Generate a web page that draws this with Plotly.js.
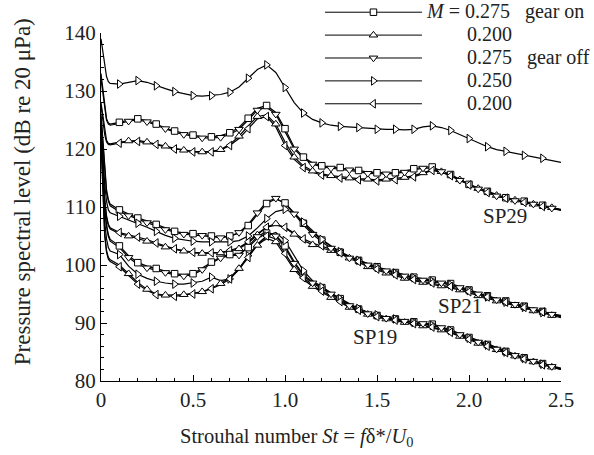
<!DOCTYPE html>
<html>
<head>
<meta charset="utf-8">
<script src="https://cdn.plot.ly/plotly-3.0.1.min.js"></script>
<style>html,body{margin:0;padding:0;background:#fff;}#chart{width:594px;height:455px;}</style>
</head>
<body>
<div id="chart"></div>
<script>
// Strouhal number grid
const St = [0,0.01,0.02,0.03,0.04,
  0.05,0.1,0.15,0.2,0.25,0.3,0.35,0.4,0.45,0.5,
  0.55,0.6,0.65,0.7,0.75,0.8,0.85,0.9,0.95,1.0,
  1.05,1.1,1.15,1.2,1.25,1.3,1.35,1.4,1.45,1.5,
  1.55,1.6,1.65,1.7,1.75,1.8,1.85,1.9,1.95,2.0,
  2.05,2.1,2.15,2.2,2.25,2.3,2.35,2.4,2.45,2.5];

// SP29
const sp29_sq = [133,130,127,125.2,124.5,
  124.3,124.6,125.0,125.2,124.9,124.3,123.6,123.1,122.7,122.4,
  122.1,122.1,122.3,122.8,123.7,125.3,127.0,127.5,126.3,123.5,
  120.3,118.6,117.6,117.1,116.9,116.8,116.6,116.3,116.0,115.9,
  115.9,115.9,116.2,116.6,116.9,116.9,116.3,115.6,114.8,113.9,
  113.3,112.7,112.1,111.6,111.3,111.0,110.6,110.3,109.9,109.6];
const sp29_up = [128,125.5,123,121.5,121.0,
  120.9,121.2,121.4,121.5,121.2,120.9,120.5,120.1,119.8,119.6,
  119.5,119.6,119.9,120.8,122.2,124.0,125.6,125.9,124.3,121.2,
  118.6,117.1,116.2,115.7,115.4,115.2,115.0,114.9,114.8,114.7,
  114.8,114.9,115.1,115.4,115.9,116.4,116.1,115.5,114.7,113.9,
  113.2,112.6,112.0,111.6,111.2,110.9,110.5,110.2,109.9,109.5];
const sp29_dn = [132,129.5,126.5,125,124.3,
  124.1,124.4,124.8,125.0,124.7,124.1,123.5,122.9,122.5,122.2,
  121.9,121.9,122.0,122.5,123.4,125.0,126.7,127.2,126.0,123.0,
  120.0,118.4,117.4,116.9,116.7,116.6,116.4,116.1,115.8,115.7,
  115.7,115.8,116.0,116.4,116.7,116.7,116.1,115.4,114.6,113.8,
  113.1,112.5,111.9,111.5,111.1,110.8,110.5,110.1,109.8,109.5];
const sp29_rt = [139,137,134.5,132.5,131.6,
  131.3,131.2,131.5,131.8,131.5,130.9,130.4,129.9,129.5,129.2,
  129.1,129.2,129.4,129.8,130.7,132.2,133.7,134.5,133.2,130.6,
  128.0,126.2,125.1,124.5,124.1,123.9,123.8,123.7,123.5,123.4,
  123.4,123.4,123.3,123.4,123.8,124.0,123.7,123.2,122.5,121.8,
  121.0,120.4,119.9,119.6,119.2,118.9,118.6,118.4,118.1,117.7];
const sp29_lt = [127.5,125,122.5,121.2,120.8,
  120.7,121.0,121.3,121.3,121.1,120.8,120.3,120.0,119.7,119.5,
  119.4,119.5,119.8,120.6,121.8,123.5,125.2,125.6,123.8,120.6,
  118.2,116.8,116.0,115.5,115.2,115.0,114.8,114.7,114.6,114.5,
  114.6,114.7,114.9,115.2,115.8,116.3,116.0,115.4,114.6,113.8,
  113.1,112.5,111.9,111.5,111.1,110.8,110.4,110.1,109.8,109.4];

// SP21
const sp21_sq = [126,121,116,113,111.3,
  110.5,109.5,108.8,108.1,107.6,107.0,106.3,105.8,105.5,105.4,
  105.3,105.0,104.8,105.0,105.5,106.8,108.7,110.6,111.4,110.7,
  109.0,107.2,105.6,104.3,103.2,102.2,101.4,100.8,100.2,99.7,
  99.2,98.7,98.3,97.9,97.6,97.4,97.1,96.8,96.3,95.7,
  95.2,94.7,94.2,93.8,93.4,92.9,92.5,92.0,91.6,91.3];
const sp21_up = [123.5,116.5,111,108.2,106.8,
  106.2,105.4,105.0,104.6,104.1,103.6,103.1,102.7,102.4,102.1,
  102.0,102.0,102.1,102.4,102.8,103.8,105.2,106.6,107.1,106.4,
  105.3,104.2,103.5,103.0,102.5,101.9,101.2,100.4,99.7,99.1,
  98.6,98.1,97.7,97.3,97.0,96.7,96.4,96.1,95.7,95.2,
  94.7,94.3,93.8,93.4,93.0,92.5,92.1,91.7,91.3,90.9];
const sp21_dn = [125.5,120.5,115.5,112.5,111.0,
  110.2,109.2,108.5,107.9,107.3,106.7,106.1,105.6,105.3,105.2,
  105.1,104.9,104.7,104.9,105.6,107.0,109.0,110.9,111.5,110.6,
  108.8,106.9,105.3,104.0,102.9,102.0,101.2,100.6,100.0,99.5,
  99.0,98.5,98.1,97.7,97.4,97.2,96.9,96.6,96.1,95.5,
  95.0,94.5,94.0,93.6,93.2,92.7,92.3,91.8,91.5,91.2];
const sp21_rt = [125,119,114,111,109.5,
  109.0,108.4,107.7,107.2,106.5,105.8,105.1,104.6,104.3,104.1,
  104.0,104.0,104.0,104.0,104.2,105.0,106.4,108.0,109.2,109.6,
  108.9,107.4,105.8,104.4,103.3,102.3,101.5,100.8,100.2,99.6,
  99.1,98.6,98.2,97.8,97.5,97.2,96.9,96.6,96.1,95.6,
  95.0,94.5,94.0,93.6,93.1,92.7,92.3,91.8,91.4,91.1];
const sp21_lt = [124,117,111.5,108.5,107.0,
  106.4,105.6,105.2,104.8,104.4,103.8,103.3,102.8,102.5,102.2,
  102.1,102.1,102.2,102.5,103.0,104.0,105.4,106.5,106.9,106.5,
  105.5,104.5,103.8,103.3,102.7,102.1,101.4,100.6,99.9,99.3,
  98.8,98.3,97.9,97.5,97.2,96.9,96.6,96.3,95.9,95.4,
  94.9,94.5,94.0,93.6,93.2,92.7,92.3,91.9,91.5,91.1];

// SP19
const sp19_sq = [124,116,110,107,105.2,
  104.4,103.3,101.6,100.4,99.8,99.4,98.9,98.5,98.3,98.5,
  99.5,100.5,101.4,101.8,101.8,103.0,104.6,105.5,105.2,103.3,
  100.6,98.3,97.1,96.1,95.2,94.2,93.2,92.4,91.8,91.3,
  91.0,90.7,90.4,90.2,90.0,89.8,89.4,88.8,88.2,87.5,
  86.9,86.3,85.7,85.1,84.5,84.0,83.5,83.0,82.6,82.2];
const sp19_up = [122,112,105.5,102.5,101.3,
  100.9,100.0,98.5,97.0,95.8,95.0,94.8,94.8,94.9,95.1,
  95.4,96.0,96.8,97.8,99.4,101.5,103.4,104.6,104.0,101.6,
  99.2,97.5,96.3,95.3,94.4,93.5,92.7,92.0,91.5,91.0,
  90.7,90.4,90.1,89.8,89.5,89.2,88.8,88.3,87.7,87.1,
  86.5,86.0,85.4,84.8,84.3,83.8,83.3,82.8,82.4,82.0];
const sp19_dn = [123.5,115.5,109.5,106.6,104.9,
  104.1,103.0,101.3,100.1,99.5,99.1,98.7,98.3,98.1,98.3,
  99.2,100.3,101.2,101.6,101.7,103.2,104.9,105.8,105.0,103.0,
  100.3,98.1,96.9,95.9,95.0,94.0,93.0,92.2,91.6,91.1,
  90.8,90.5,90.3,90.1,89.9,89.6,89.2,88.6,88.0,87.3,
  86.7,86.1,85.5,84.9,84.4,83.9,83.4,82.9,82.5,82.1];
const sp19_rt = [123,114,107.5,104.5,103.0,
  102.4,101.8,99.8,98.4,97.7,97.2,96.9,96.7,96.7,96.9,
  97.2,97.9,97.3,97.6,99.3,101.6,103.6,105.0,105.6,104.2,
  101.6,99.0,97.3,96.2,95.2,94.2,93.3,92.5,91.9,91.4,
  91.0,90.7,90.4,90.1,89.9,89.6,89.2,88.7,88.1,87.4,
  86.8,86.2,85.6,85.0,84.4,83.9,83.4,82.9,82.5,82.1];
const sp19_lt = [121.5,111.5,105,102.2,101.0,
  100.6,99.7,98.2,96.7,95.6,94.9,94.7,94.6,94.8,95.0,
  95.3,95.9,96.6,97.6,99.2,101.3,103.5,105.0,104.5,102.0,
  99.6,97.8,96.5,95.5,94.6,93.7,92.9,92.2,91.6,91.1,
  90.8,90.5,90.2,89.9,89.6,89.3,88.9,88.4,87.8,87.2,
  86.6,86.0,85.5,84.9,84.3,83.8,83.3,82.8,82.4,82.0];

// Legend labels
const NB = '&nbsp;';
const legendNames = [
  '<i>M</i> = 0.275' + NB.repeat(3) + 'gear on',
  NB.repeat(8) + '0.200',
  NB.repeat(8) + '0.275' + NB.repeat(3) + 'gear off',
  NB.repeat(8) + '0.250',
  NB.repeat(8) + '0.200'
];
const groupLabels = ['SP29','SP21','SP19'];
const xTitle = 'Strouhal number <i>St</i> = <i>f</i>δ*/<i>U</i><sub>0</sub>';
const yTitle = 'Pressure spectral level (dB re 20 μPa)';

const styles = {
  sq: {symbol:'square', size:6.5, phase:0},
  up: {symbol:'triangle-up', size:7.5, phase:1},
  dn: {symbol:'triangle-down', size:7.5, phase:1},
  rt: {symbol:'triangle-right', size:7.5, phase:0},
  lt: {symbol:'triangle-left', size:7.5, phase:0}
};
const order = ['sq','up','dn','rt','lt'];
const groups = [
  {sq:sp29_sq, up:sp29_up, dn:sp29_dn, rt:sp29_rt, lt:sp29_lt},
  {sq:sp21_sq, up:sp21_up, dn:sp21_dn, rt:sp21_rt, lt:sp21_lt},
  {sq:sp19_sq, up:sp19_up, dn:sp19_dn, rt:sp19_rt, lt:sp19_lt}
];

const FONT = '"Liberation Serif","Times New Roman",Times,serif';
const TXT = '#222';
const traces = [];
groups.forEach(g => {
  order.forEach(k => {
    traces.push({x:St, y:g[k], type:'scatter', mode:'lines', showlegend:false,
      line:{color:'black', width:1.2}, hoverinfo:'skip'});
  });
});
groups.forEach(g => {
  order.forEach(k => {
    const y = g[k], s = styles[k];
    const mx = [], my = [];
    for (let i = 6; i < St.length; i++) {
      if ((i - 6 + s.phase) % 2 === 0 && St[i] < 2.47) { mx.push(St[i]); my.push(y[i]); }
    }
    traces.push({x:mx, y:my, type:'scatter', mode:'markers', showlegend:false,
      marker:{symbol:s.symbol, size:s.size, color:'white', line:{color:'black', width:1}}});
  });
});
order.forEach((k, i) => {
  const s = styles[k];
  traces.push({x:[null], y:[null], type:'scatter', mode:'lines+markers',
    name:'<span style="font-size:20px">' + legendNames[i] + '</span>',
    line:{color:'black', width:1},
    marker:{symbol:s.symbol, size:s.size, color:'white', line:{color:'black', width:1}}});
});

const labelPos = [[2.196,108.4],[1.951,92.9],[1.489,87.6]];
const annotations = groupLabels.map((t, i) => ({
  x: labelPos[i][0], y: labelPos[i][1], xref:'x', yref:'y', text:t, showarrow:false,
  font:{family:FONT, size:21, color:TXT}
}));
annotations.push({x:0.424, y:-0.161, xref:'paper', yref:'paper', text:xTitle, showarrow:false,
  xanchor:'center', yanchor:'middle', font:{family:FONT, size:20.5, color:TXT}});
annotations.push({x:-0.172, y:0.545, xref:'paper', yref:'paper', text:yTitle, showarrow:false,
  textangle:-90, xanchor:'center', yanchor:'middle', font:{family:FONT, size:23, color:TXT}});

const layout = {
  width:594, height:455,
  margin:{l:101, r:33, t:33, b:74, autoexpand:false},
  paper_bgcolor:'white', plot_bgcolor:'white',
  font:{family:FONT, size:20, color:TXT},
  showlegend:true,
  legend:{x:0.476, y:1.107, xanchor:'left', yanchor:'top', bgcolor:'rgba(0,0,0,0)',
    itemwidth:97, font:{family:FONT, size:15.3, color:TXT}, tracegroupgap:0},
  xaxis:{range:[0,2.5], tickvals:[0,0.5,1,1.5,2,2.5], ticktext:['0','0.5','1.0','1.5','2.0','2.5'],
    ticks:'inside', ticklen:6, tickcolor:'black', showline:true, linecolor:'black', linewidth:1,
    showgrid:false, zeroline:false,
    minor:{dtick:0.1, ticks:'inside', ticklen:3, tickcolor:'black', showgrid:false},
    tickfont:{family:FONT, size:21, color:TXT}},
  yaxis:{range:[80,140], tickvals:[80,90,100,110,120,130,140],
    ticks:'inside', ticklen:6, tickcolor:'black', showline:true, linecolor:'black', linewidth:1,
    showgrid:false, zeroline:false,
    minor:{dtick:2, ticks:'inside', ticklen:3, tickcolor:'black', showgrid:false},
    tickfont:{family:FONT, size:21, color:TXT}},
  annotations: annotations
};

Plotly.newPlot('chart', traces, layout, {displayModeBar:false, staticPlot:true});
</script>
</body>
</html>
